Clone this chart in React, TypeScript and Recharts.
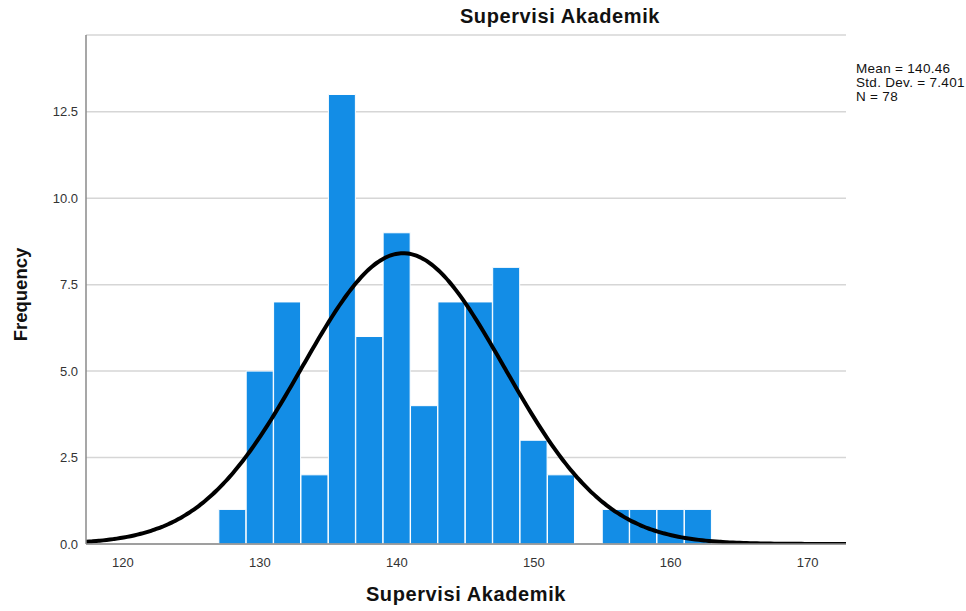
import { ComposedChart, Bar, Line, XAxis, YAxis, CartesianGrid, Label } from "recharts";

// histogram bins (width 2)
const binStarts = [127, 129, 131, 133, 135, 137, 139, 141, 143, 145, 147, 149, 151, 153, 155, 157, 159, 161];
const binCounts = [1, 5, 7, 2, 13, 6, 9, 4, 7, 7, 8, 3, 2, 0, 1, 1, 1, 1];
const BIN_WIDTH = 2;

// stats printed at the right of the chart
const MEAN = 140.46;
const STD_DEV = 7.401;
const N = 78;

const xTicks = [120, 130, 140, 150, 160, 170];
const yTicks = [0, 2.5, 5, 7.5, 10, 12.5];
const X_DOMAIN = [117.3, 172.8];
const Y_DOMAIN = [0, 14.72];

const bins = binStarts.map((s, i) => ({ mid: s + BIN_WIDTH / 2, count: binCounts[i] }));

// fitted normal curve that SPSS draws from the stats above
const curveX: number[] = [];
for (let x = X_DOMAIN[0]; x <= X_DOMAIN[1] + 0.001; x += 0.25) curveX.push(+x.toFixed(2));
const curve = curveX.map((x) => ({
  x,
  y: (N * BIN_WIDTH * Math.exp(-((x - MEAN) ** 2) / (2 * STD_DEV ** 2))) / (STD_DEV * Math.sqrt(2 * Math.PI)),
}));

const FONT = "'Liberation Sans', Arial, sans-serif";
const TICK = { fill: "#333", fontSize: 13, fontFamily: FONT };
const AXIS_LINE = { stroke: "#8a8a8a", strokeWidth: 1.5 };
const TITLE = { fontSize: 20, fontWeight: "bold", fill: "#111", fontFamily: FONT, letterSpacing: 0.6 };

export default function App() {
  return (
    <div style={{ position: "absolute", left: 0, top: 0, width: 966, height: 611, background: "#fff", fontFamily: FONT }}>
      <ComposedChart
        width={966}
        height={611}
        data={bins}
        margin={{ top: 35, right: 120, bottom: 0, left: 0 }}
        barCategoryGap={0}
        barGap={0}
      >
        <CartesianGrid xAxisId="bins" vertical={false} stroke="#d6d6d6" strokeWidth={1.5} />
        <XAxis
          xAxisId="bins"
          dataKey="mid"
          type="number"
          domain={X_DOMAIN}
          ticks={xTicks}
          allowDataOverflow
          height={67}
          tick={TICK}
          tickLine={false}
          axisLine={AXIS_LINE}
          tickMargin={8}
        >
          <Label value="Supervisi Akademik" position="insideBottom" offset={10} style={TITLE} />
        </XAxis>
        <XAxis xAxisId="curve" dataKey="x" type="number" domain={X_DOMAIN} allowDataOverflow hide />
        <YAxis
          type="number"
          domain={Y_DOMAIN}
          ticks={yTicks}
          allowDataOverflow
          width={86}
          tick={TICK}
          tickLine={false}
          axisLine={AXIS_LINE}
          tickMargin={2}
          tickFormatter={(v: number) => v.toFixed(1)}
        >
          <Label
            value="Frequency"
            angle={-90}
            position="insideLeft"
            offset={20}
            dy={5}
            style={{ textAnchor: "middle", fontSize: 18.5, fontWeight: "bold", fill: "#111", fontFamily: FONT }}
          />
        </YAxis>
        <Bar xAxisId="bins" dataKey="count" fill="#138de6" stroke="#ffffff" strokeWidth={1} isAnimationActive={false} />
        <Line
          xAxisId="curve"
          data={curve}
          dataKey="y"
          type="monotone"
          stroke="#000"
          strokeWidth={4}
          dot={false}
          activeDot={false}
          isAnimationActive={false}
        />
      </ComposedChart>
      <div
        style={{
          position: "absolute",
          left: 440,
          width: 240,
          top: 5,
          textAlign: "center",
          fontSize: 20,
          fontWeight: "bold",
          letterSpacing: 0.6,
          color: "#111",
        }}
      >
        Supervisi Akademik
      </div>
      <div
        style={{
          position: "absolute",
          left: 856,
          top: 62,
          fontSize: 13.5,
          letterSpacing: 0.3,
          lineHeight: "13.8px",
          color: "#111",
        }}
      >
        <div>Mean = {MEAN.toFixed(2)}</div>
        <div>Std. Dev. = {STD_DEV.toFixed(3)}</div>
        <div>N = {N}</div>
      </div>
    </div>
  );
}
